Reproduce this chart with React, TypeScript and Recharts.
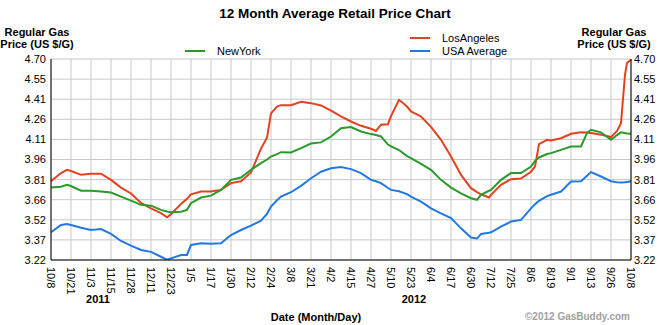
import React from 'react';
import { LineChart, Line, XAxis, YAxis, CartesianGrid } from 'recharts';

const xLabels = [
  '10/8', '10/21', '11/3', '11/15', '11/28', '12/11', '12/23', '1/5', '1/17', '1/30',
  '2/12', '2/24', '3/8', '3/21', '4/2', '4/15', '4/27', '5/10', '5/23', '6/4',
  '6/17', '6/30', '7/12', '7/25', '8/6', '8/19', '9/1', '9/13', '9/26', '10/8',
];

const yTickLabels = ['3.22', '3.37', '3.52', '3.66', '3.81', '3.96', '4.11', '4.26', '4.41', '4.55', '4.70'];

// positions in units of x-axis tick intervals (0 = 10/8/2011, 29 = 10/8/2012)
const xPos = [
  0, 0.5, 0.8, 1, 1.5, 2, 2.5, 3, 3.5, 4,
  4.5, 5, 5.5, 5.8, 6, 6.5, 6.8, 7, 7.5, 8,
  8.5, 9, 9.5, 10, 10.5, 10.8, 11, 11.3, 11.5, 12,
  12.5, 13, 13.5, 14, 14.5, 15, 15.5, 16, 16.25, 16.5,
  16.85, 17, 17.4, 17.8, 18, 18.5, 19, 19.5, 20, 20.5,
  21, 21.3, 21.5, 21.9, 22, 22.5, 23, 23.5, 24, 24.2,
  24.4, 24.8, 25, 25.5, 26, 26.5, 26.8, 27, 27.5, 28,
  28.3, 28.5, 28.7, 28.8, 29,
];

const losAngeles = [
  3.80, 3.86, 3.884, 3.875, 3.847, 3.855, 3.855, 3.81, 3.753, 3.71,
  3.64, 3.60, 3.565, 3.535, 3.557, 3.633, 3.67, 3.704, 3.724, 3.724,
  3.736, 3.786, 3.80, 3.865, 4.04, 4.12, 4.30, 4.35, 4.36, 4.36,
  4.385, 4.375, 4.358, 4.32, 4.277, 4.24, 4.208, 4.186, 4.17, 4.216,
  4.22, 4.28, 4.40, 4.35, 4.314, 4.277, 4.20, 4.105, 3.982, 3.847,
  3.749, 3.72, 3.704, 3.68, 3.70, 3.773, 3.815, 3.82, 3.87, 3.908,
  4.073, 4.105, 4.10, 4.117, 4.149, 4.16, 4.158, 4.155, 4.143, 4.125,
  4.17, 4.228, 4.584, 4.67, 4.695,
];

const newYork = [
  3.753, 3.76, 3.773, 3.765, 3.73, 3.73, 3.724, 3.717, 3.687, 3.657,
  3.626, 3.62, 3.589, 3.577, 3.572, 3.575, 3.589, 3.638, 3.68, 3.694,
  3.736, 3.81, 3.827, 3.884, 3.933, 3.96, 3.982, 4.00, 4.014, 4.012,
  4.044, 4.078, 4.086, 4.129, 4.19, 4.199, 4.166, 4.147, 4.14, 4.13,
  4.07, 4.056, 4.03, 3.985, 3.97, 3.928, 3.884, 3.81, 3.753, 3.71,
  3.675, 3.663, 3.70, 3.73, 3.736, 3.81, 3.86, 3.86, 3.908, 3.95,
  3.975, 4.0, 4.007, 4.031, 4.056, 4.056, 4.155, 4.179, 4.16, 4.105,
  4.14, 4.16, 4.155, 4.152, 4.149,
];

const usaAverage = [
  3.424, 3.478, 3.485, 3.478, 3.457, 3.441, 3.448, 3.412, 3.36, 3.326,
  3.294, 3.28, 3.244, 3.222, 3.232, 3.257, 3.257, 3.331, 3.343, 3.34,
  3.343, 3.404, 3.441, 3.473, 3.51, 3.56, 3.613, 3.66, 3.687, 3.719,
  3.766, 3.822, 3.87, 3.896, 3.905, 3.889, 3.86, 3.81, 3.80, 3.786,
  3.75, 3.736, 3.726, 3.705, 3.687, 3.65, 3.60, 3.564, 3.528, 3.453,
  3.385, 3.378, 3.412, 3.42, 3.424, 3.465, 3.503, 3.515, 3.60, 3.63,
  3.655, 3.69, 3.70, 3.724, 3.798, 3.80, 3.84, 3.867, 3.835, 3.80,
  3.792, 3.79, 3.792, 3.795, 3.80,
];

const Y_MIN = 3.22;
const Y_MAX = 4.7;
const yTicks = yTickLabels.map((_, i) => Math.round((Y_MIN + (i * (Y_MAX - Y_MIN)) / 10) * 10000) / 10000);
const xTicks = xLabels.map((_, i) => i);

const data = xPos.map((x, i) => ({ x, ny: newYork[i], la: losAngeles[i], usa: usaAverage[i] }));

const FONT = '"Liberation Sans", Arial, Helvetica, sans-serif';
const GREEN = '#2a9a2a';
const RED = '#e4421f';
const BLUE = '#2179e2';

const yFmt = (v: number) => {
  let best = 0;
  yTicks.forEach((t, i) => {
    if (Math.abs(t - v) < Math.abs(yTicks[best] - v)) best = i;
  });
  return yTickLabels[best];
};

const XTick = (props: any) => {
  const { x, y, payload } = props;
  const ty = y + 7;
  return (
    <text
      x={x}
      y={ty}
      transform={`rotate(90 ${x} ${ty})`}
      textAnchor="start"
      dominantBaseline="central"
      fontSize={11}
      fontFamily={FONT}
      fill="#000"
    >
      {xLabels[payload.value]}
    </text>
  );
};

const abs = (left: number, top: number, extra: React.CSSProperties = {}): React.CSSProperties => ({
  position: 'absolute',
  left,
  top,
  fontFamily: FONT,
  whiteSpace: 'nowrap',
  ...extra,
});

const LegendItem = ({ left, top, color, label }: { left: number; top: number; color: string; label: string }) => (
  <div style={abs(left, top, { fontSize: 11, lineHeight: '12px', color: '#000' })}>
    <span style={{ display: 'inline-block', width: 20, height: 2, background: color, verticalAlign: 'middle', marginRight: 12, position: 'relative', top: -1 }} />
    {label}
  </div>
);

export default function App() {
  return (
    <div style={{ position: 'absolute', left: 0, top: 0, width: 670, height: 325, background: '#fff', overflow: 'hidden' }}>
      <LineChart width={670} height={325} data={data} margin={{ top: 59, right: 0, bottom: 0, left: 0 }}>
        <CartesianGrid stroke="#c8c8c8" strokeWidth={1} />
        <XAxis
          dataKey="x"
          type="number"
          domain={[0, 29]}
          ticks={xTicks}
          interval={0}
          height={65}
          tickSize={0}
          tickMargin={0}
          tickLine={false}
          axisLine={{ stroke: '#000' }}
          tick={<XTick />}
        />
        <XAxis
          xAxisId="top"
          orientation="top"
          dataKey="x"
          type="number"
          domain={[0, 29]}
          height={0}
          tick={false}
          tickLine={false}
          axisLine={{ stroke: '#000' }}
        />
        <YAxis
          type="number"
          domain={[Y_MIN, Y_MAX]}
          ticks={yTicks}
          interval={0}
          width={51}
          tickSize={0}
          tickMargin={5}
          tickLine={false}
          axisLine={{ stroke: '#000' }}
          tickFormatter={yFmt}
          tick={{ fontSize: 11, fill: '#000', fontFamily: FONT }}
          allowDataOverflow
        />
        <YAxis
          yAxisId="right"
          orientation="right"
          type="number"
          domain={[Y_MIN, Y_MAX]}
          ticks={yTicks}
          interval={0}
          width={39}
          tickSize={0}
          tickMargin={3}
          tickLine={false}
          axisLine={{ stroke: '#000' }}
          tickFormatter={yFmt}
          tick={{ fontSize: 11, fill: '#000', fontFamily: FONT }}
          allowDataOverflow
        />
        <Line type="linear" dataKey="usa" stroke={BLUE} strokeWidth={2} dot={false} isAnimationActive={false} />
        <Line type="linear" dataKey="la" stroke={RED} strokeWidth={2} dot={false} isAnimationActive={false} />
        <Line type="linear" dataKey="ny" stroke={GREEN} strokeWidth={2} dot={false} isAnimationActive={false} />
      </LineChart>

      <div style={abs(0, 5, { width: 670, textAlign: 'center', fontSize: 13.5, fontWeight: 'bold', lineHeight: '17px', color: '#000' })}>
        12 Month Average Retail Price Chart
      </div>
      <div style={abs(0, 26, { width: 74, textAlign: 'center', fontSize: 11, fontWeight: 'bold', lineHeight: '12px', color: '#000' })}>
        Regular Gas<br />Price (US $/G)
      </div>
      <div style={abs(577, 26, { width: 74, textAlign: 'center', fontSize: 11, fontWeight: 'bold', lineHeight: '12px', color: '#000' })}>
        Regular Gas<br />Price (US $/G)
      </div>

      <LegendItem left={185} top={45} color={GREEN} label="NewYork" />
      <LegendItem left={410} top={32} color={RED} label="LosAngeles" />
      <LegendItem left={410} top={45} color={BLUE} label="USA Average" />

      <div style={abs(78, 293, { width: 40, textAlign: 'center', fontSize: 11, fontWeight: 'bold', lineHeight: '12px', color: '#000' })}>2011</div>
      <div style={abs(394, 293, { width: 40, textAlign: 'center', fontSize: 11, fontWeight: 'bold', lineHeight: '12px', color: '#000' })}>2012</div>
      <div style={abs(216, 311, { width: 200, textAlign: 'center', fontSize: 11, fontWeight: 'bold', lineHeight: '12px', color: '#000' })}>
        Date (Month/Day)
      </div>
      <div style={abs(525, 311, { fontSize: 10, fontWeight: 'bold', lineHeight: '12px', color: '#a0a0a0' })}>©2012 GasBuddy.com</div>
    </div>
  );
}
